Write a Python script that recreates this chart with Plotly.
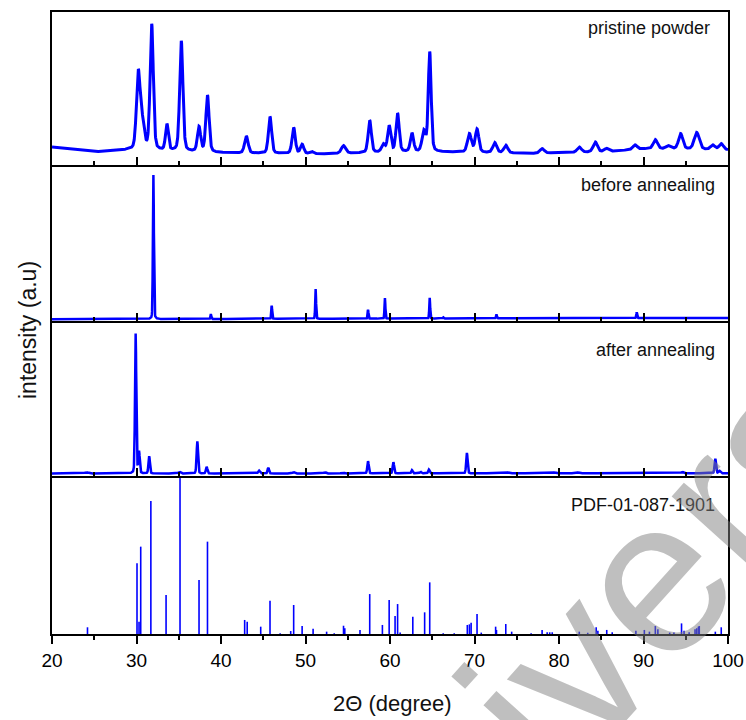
import numpy as np
import plotly.graph_objects as go

# ---------------- data ----------------
# pristine powder: peak positions (deg), heights (a.u.), widths (deg)
pristine_pos = [30.2, 30.65, 31.8, 33.6, 35.3, 37.4, 38.4, 43.0, 45.8, 48.6, 49.6, 50.7,
                54.5, 57.6, 59.2, 59.9, 60.9, 62.6, 64.0, 64.7, 69.4, 70.3, 72.4, 73.7,
                78.0, 82.4, 84.3, 85.6, 89.0, 91.4, 92.9, 94.4, 96.3, 98.2, 99.2]
pristine_amp = [48, 18, 82, 17, 72, 16, 37, 11, 24, 17, 6, 1.5,
                5, 21, 5, 17, 25, 12, 13, 65, 12, 15, 6.5, 5,
                3, 3.5, 6.5, 2, 3, 6, 2, 10, 11, 3, 4]
pristine_fwhm = [0.5, 0.6, 0.45, 0.4, 0.45, 0.45, 0.45, 0.5, 0.45, 0.45, 0.45, 0.5,
                 0.6, 0.45, 0.5, 0.45, 0.45, 0.45, 0.5, 0.4, 0.55, 0.5, 0.55, 0.55,
                 0.6, 0.6, 0.6, 0.6, 0.6, 0.6, 0.6, 0.6, 0.7, 0.6, 0.6]
pristine_bg_x = [20, 25, 29, 34, 41, 52, 56, 62, 66.5, 77, 85, 90, 93, 100]
pristine_bg_y = [11.8, 8.5, 9.8, 9.0, 7.8, 7.2, 7.8, 8.5, 8.5, 7.6, 8.5, 10.5, 10.5, 9.8]

# before annealing
before_pos = [32.0, 38.8, 46.0, 51.2, 57.4, 59.4, 64.7, 66.3, 72.6, 89.2]
before_amp = [93.5, 3.2, 8.6, 19.3, 5.8, 13.4, 13.4, 0.8, 2.6, 3.7]
before_fwhm = [0.14, 0.12, 0.12, 0.12, 0.12, 0.12, 0.12, 0.12, 0.12, 0.12]
before_bg_x = [20, 100]
before_bg_y = [1.1, 2.0]

# after annealing
after_pos = [24.1, 29.9, 30.3, 31.5, 35.1, 37.2, 38.3, 44.5, 45.6, 48.6, 52.3, 54.4,
             57.4, 60.4, 62.6, 63.6, 64.6, 69.1, 74.0, 79.5, 82.3, 94.6, 98.5, 99.0]
after_amp = [0.8, 91.4, 14, 11.3, 1.0, 21, 4.3, 1.9, 3.6, 0.8, 0.8, 0.6,
             8, 7.4, 2.1, 1.0, 2.5, 13.4, 0.6, 0.6, 0.6, 0.8, 9.5, 1.5]
after_fwhm = [0.5, 0.18, 0.2, 0.2, 0.3, 0.2, 0.2, 0.25, 0.2, 0.3, 0.3, 0.3,
              0.2, 0.2, 0.2, 0.25, 0.2, 0.2, 0.3, 0.3, 0.3, 0.3, 0.2, 0.25]
after_bg_x = [20, 100]
after_bg_y = [1.6, 1.8]

# reference card PDF-01-087-1901 (stick pattern)
pdf_pos = [24.2, 30.06, 30.3, 30.5, 31.7, 33.5, 35.15, 37.4, 38.4, 42.8, 43.1, 44.7,
           45.8, 47.0, 48.25, 48.6, 49.6, 50.9, 52.5, 53.4, 54.5, 54.65, 56.45, 57.6,
           59.1, 59.9, 60.6, 60.9, 61.2, 62.7, 64.1, 64.7, 66.3, 67.6, 69.15, 69.4,
           69.6, 70.3, 70.8, 72.5, 72.6, 73.7, 74.4, 76.7, 78.0, 78.6, 78.9, 79.2,
           82.4, 83.4, 84.4, 84.6, 85.65, 86.3, 89.1, 90.1, 90.7, 91.4, 91.7, 93.1,
           93.6, 94.5, 94.8, 95.4, 96.1, 96.3, 96.5, 96.6, 98.5, 99.2]
pdf_int = [4.3, 45.3, 7.9, 56, 85.3, 25, 100, 34.6, 59.2, 9, 7.9, 4.7,
           21.3, 0.5, 1.9, 18.6, 5.1, 3.4, 1.5, 0.5, 5.3, 3.7, 2.6, 25.6,
           5.8, 21.8, 11.5, 19.2, 0.9, 11.1, 13.9, 33.1, 0.5, 0.5, 5.8, 6.2,
           7.2, 12.8, 0.9, 4.7, 2.6, 6.4, 1.5, 0.5, 2.6, 1.1, 1.1, 1.1,
           1.5, 0.8, 4.3, 2.1, 2.6, 1.1, 2.1, 2.6, 1.5, 5.1, 3.0, 0.9,
           0.9, 6.8, 2.1, 1.1, 3.0, 3.7, 4.7, 5.1, 1.5, 4.3]

panel_labels = ["pristine powder", "before annealing", "after annealing", "PDF-01-087-1901"]
x_ticks = [20, 30, 40, 50, 60, 70, 80, 90, 100]

# ---------------- build profiles from the peak lists ----------------
grid = np.arange(20.0, 100.0001, 0.02)


def pattern(pos, amp, fwhm, bgx, bgy, eta=0.3):
    y = np.interp(grid, bgx, bgy)
    for p, a, w in zip(pos, amp, fwhm):
        d = (grid - p) / (w / 2.0)
        y = y + a * ((1 - eta) * np.exp(-np.log(2) * d ** 2) + eta / (1 + d ** 2))
    return y


y_pristine = pattern(pristine_pos, pristine_amp, pristine_fwhm, pristine_bg_x, pristine_bg_y)
y_before = pattern(before_pos, before_amp, before_fwhm, before_bg_x, before_bg_y, eta=0.2)
y_after = pattern(after_pos, after_amp, after_fwhm, after_bg_x, after_bg_y, eta=0.2)

stick_x, stick_y = [], []
for p, h in zip(pdf_pos, pdf_int):
    stick_x += [p, p, None]
    stick_y += [0, h, None]

BLUE = "#0000ff"
fig = go.Figure()
fig.add_trace(go.Scatter(x=grid, y=y_pristine, mode="lines", line=dict(color=BLUE, width=3),
                         xaxis="x", yaxis="y", showlegend=False))
fig.add_trace(go.Scatter(x=grid, y=y_before, mode="lines", line=dict(color=BLUE, width=2.5),
                         xaxis="x2", yaxis="y2", showlegend=False))
fig.add_trace(go.Scatter(x=grid, y=y_after, mode="lines", line=dict(color=BLUE, width=2.5),
                         xaxis="x3", yaxis="y3", showlegend=False))
fig.add_trace(go.Scatter(x=stick_x, y=stick_y, mode="lines", line=dict(color=BLUE, width=1.6),
                         xaxis="x4", yaxis="y4", showlegend=False))

# ---------------- layout ----------------
W, H = 746, 720
L, R, T, B = 52, 18, 12, 86
plot_h = H - T - B
plot_w = W - L - R


def frac(py):
    return (H - B - py) / plot_h


def xfrac(px):
    return (px - L) / plot_w


domains = [[frac(165), 1.0], [frac(321), frac(167)], [frac(476), frac(323)], [0.0, frac(478)]]
FONT = "Liberation Sans, Arial, sans-serif"

layout = dict(width=W, height=H, autosize=False,
              margin=dict(l=L, r=R, t=T, b=B, autoexpand=False),
              paper_bgcolor="white", plot_bgcolor="white",
              font=dict(family=FONT, color="black"))
for i in range(4):
    sfx = "" if i == 0 else str(i + 1)
    last = i == 3
    layout["xaxis" + sfx] = dict(
        domain=[0, 1], range=[20, 100], anchor="y" + sfx,
        showline=True, linecolor="black", linewidth=1.8, mirror=True,
        showgrid=False, zeroline=False, automargin=False,
        ticks="outside" if last else "inside", ticklen=8, tickwidth=1.5, tickcolor="black",
        tickvals=x_ticks, showticklabels=last,
        tickfont=dict(size=19, family=FONT, color="black"),
        minor=dict(dtick=5, tick0=20, ticks="outside" if last else "inside",
                   ticklen=4, tickwidth=1.5, tickcolor="black", showgrid=False),
    )
    layout["yaxis" + sfx] = dict(
        domain=domains[i], range=[0, 100], anchor="x" + sfx,
        showline=True, linecolor="black", linewidth=1.8, mirror=True,
        showgrid=False, zeroline=False, ticks="", showticklabels=False, automargin=False,
    )

label_y = [28.3, 185, 349.7, 505]
label_right = [712, 716.5, 716.5, 716.5]
annotations = []
for txt, py, px in zip(panel_labels, label_y, label_right):
    annotations.append(dict(text=txt, xref="paper", yref="paper",
                            x=xfrac(px), y=frac(py),
                            xanchor="right", yanchor="middle", showarrow=False,
                            font=dict(size=18, family=FONT, color="#111111")))
annotations.append(dict(text="2Θ (degree)", xref="paper", yref="paper",
                        x=xfrac(392), y=frac(703), xanchor="center", yanchor="middle",
                        showarrow=False, font=dict(size=22, family=FONT, color="#111111")))
annotations.append(dict(text="intensity (a.u)", xref="paper", yref="paper",
                        x=xfrac(28), y=frac(330), xanchor="center", yanchor="middle",
                        textangle=-90, showarrow=False,
                        font=dict(size=23, family=FONT, color="#111111")))
# diagonal grey watermark partly visible in the lower right corner
annotations.append(dict(text="Univers", xref="paper", yref="paper",
                        x=xfrac(565), y=frac(675), xanchor="center", yanchor="middle",
                        textangle=-48, showarrow=False,
                        font=dict(size=220, family=FONT, color="rgba(128,128,128,0.5)")))
layout["annotations"] = annotations

fig.update_layout(**layout)
fig.write_html("out.html", config={"displayModeBar": False},
               post_script="document.body.style.margin='0';document.body.style.overflow='hidden';")
